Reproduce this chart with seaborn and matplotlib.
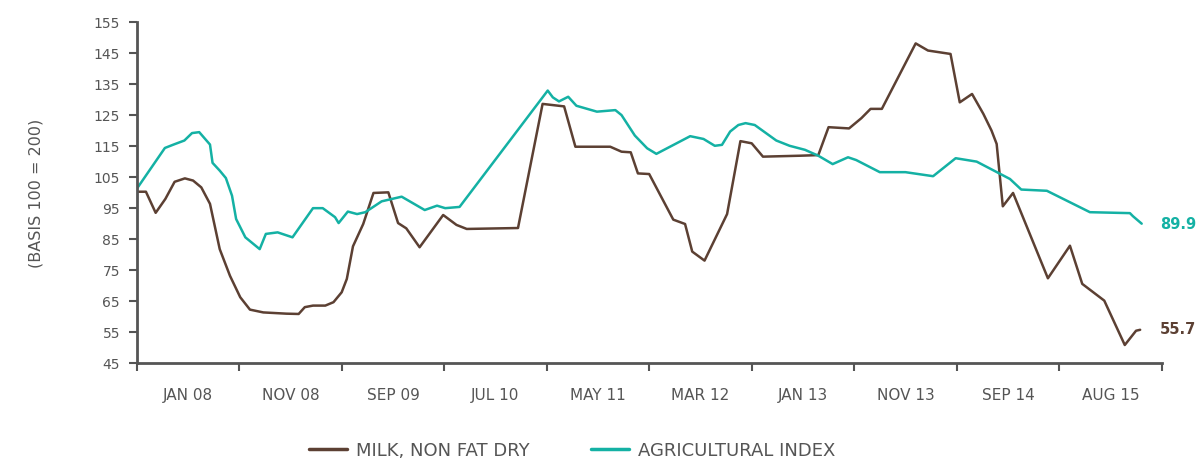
import matplotlib
matplotlib.use("Agg")
import matplotlib.pyplot as plt
import pandas as pd
import seaborn as sns

# Months elapsed since August 2007
milk_months = [0, 0.9, 1.85, 2.8, 3.7, 4.7, 5.5, 6.3, 7.15, 8.1, 9.1, 10.1, 11.05,
               12.35, 14.6, 15.8, 16.4, 17.2, 18.4, 19.2, 20.0, 20.5, 21.1, 22.1,
               23.1, 24.55, 25.5, 26.3, 27.6, 29.9, 31.2, 32.2, 37.2, 39.6, 41.7,
               42.8, 46.2, 47.3, 48.2, 48.9, 50.0, 52.35, 53.5, 54.2, 55.4, 57.6,
               58.9, 60.0, 61.1, 64.7, 66.5, 67.5, 69.5, 70.7, 71.6, 72.7, 76.0,
               77.2, 79.4, 80.3, 81.5, 82.6, 83.4, 83.9, 84.5, 85.5, 88.9, 91.05,
               92.25, 94.4, 96.4, 97.5, 97.9]
milk_values = [100.2, 100.2, 93.4, 97.9, 103.4, 104.5, 103.8, 101.6, 96.3, 81.7,
               73.1, 66.2, 62.2, 61.3, 60.9, 60.8, 63.0, 63.5, 63.5, 64.6, 67.8,
               72.1, 82.6, 89.8, 99.8, 100.0, 90.1, 88.4, 82.3, 92.7, 89.5, 88.2,
               88.5, 128.5, 127.7, 114.7, 114.7, 113.1, 112.9, 106.1, 105.9, 91.2,
               89.8, 80.9, 78.0, 93.0, 116.5, 115.8, 111.5, 111.8, 112.0, 121.0,
               120.6, 123.9, 126.9, 126.9, 148.0, 145.7, 144.6, 129.0, 131.7, 125.3,
               119.9, 115.6, 95.5, 99.8, 72.3, 82.8, 70.5, 65.1, 50.8, 55.4, 55.7]

agri_months = [0, 2.75, 3.6, 4.65, 5.4, 6.1, 7.15, 7.4, 8.1, 8.7, 9.3, 9.7, 10.6,
               12.0, 12.6, 13.75, 15.2, 17.2, 18.15, 19.35, 19.7, 20.6, 21.5, 22.3,
               23.9, 25.85, 28.1, 29.3, 30.1, 31.5, 40.1, 40.6, 41.2, 42.1, 42.9,
               44.9, 46.7, 47.3, 48.6, 49.8, 50.7, 54.0, 55.3, 56.4, 57.1, 57.9,
               58.7, 59.4, 60.3, 62.4, 63.7, 65.2, 66.5, 67.9, 69.4, 70.2, 72.5,
               75.0, 77.7, 79.9, 81.95, 85.2, 86.3, 88.8, 93.0, 96.9, 97.2, 98.05]
agri_values = [101.1, 114.3, 115.4, 116.7, 119.1, 119.4, 115.4, 109.5, 107.0, 104.6,
               98.9, 91.4, 85.5, 81.7, 86.6, 87.1, 85.5, 94.9, 94.9, 92.0, 90.1,
               93.8, 93.0, 93.6, 97.1, 98.6, 94.3, 95.7, 94.9, 95.3, 132.8, 130.6,
               129.3, 130.8, 127.9, 126.0, 126.5, 124.9, 118.3, 114.2, 112.4, 118.1,
               117.2, 115.0, 115.3, 119.6, 121.7, 122.3, 121.7, 116.7, 115.0, 113.7,
               111.8, 109.1, 111.3, 110.4, 106.5, 106.5, 105.2, 111.0, 109.9, 104.3,
               100.9, 100.5, 93.6, 93.3, 92.3, 89.9]

series_names = ["MILK, NON FAT DRY", "AGRICULTURAL INDEX"]
series_colors = ["#5c4033", "#14b1a4"]

tick_months = list(range(0, 101, 10))
label_months = [5, 15, 25, 35, 45, 55, 65, 75, 85, 95]
label_texts = ["JAN 08", "NOV 08", "SEP 09", "JUL 10", "MAY 11",
               "MAR 12", "JAN 13", "NOV 13", "SEP 14", "AUG 15"]
y_ticks = list(range(45, 156, 10))

df = pd.concat([
    pd.DataFrame({"month": milk_months, "value": milk_values, "series": series_names[0]}),
    pd.DataFrame({"month": agri_months, "value": agri_values, "series": series_names[1]}),
], ignore_index=True)

sns.set_theme(style="white")
plt.rcParams["font.family"] = ["DejaVu Sans"]
text_grey = "#555555"
axis_grey = "#555555"

fig = plt.figure(figsize=(11.96, 4.60), dpi=100)
ax = fig.add_axes([0.1143, 0.2087, 0.8570, 0.7420])

sns.lineplot(data=df, x="month", y="value", hue="series", hue_order=series_names,
             palette=series_colors, sort=False, estimator=None, linewidth=1.8, ax=ax)

ax.set_xlim(0, 100)
ax.set_ylim(45, 155)
ax.set_yticks(y_ticks)
ax.set_yticklabels([str(v) for v in y_ticks], fontsize=10, color=text_grey)
ax.set_xticks(tick_months)
ax.set_xticklabels([])
ax.set_xticks(label_months, minor=True)
ax.set_xticklabels(label_texts, minor=True, fontsize=11, color=text_grey)
ax.tick_params(axis="x", which="major", direction="out", length=6, width=1.5,
               color=axis_grey, bottom=True)
ax.tick_params(axis="x", which="minor", length=0, pad=17)
ax.tick_params(axis="y", direction="out", length=6, width=1.5, color=axis_grey,
               left=True, pad=6)

for side in ("top", "right"):
    ax.spines[side].set_visible(False)
for side in ("left", "bottom"):
    ax.spines[side].set_color(axis_grey)
    ax.spines[side].set_linewidth(2)

ax.set_xlabel("")
ax.set_ylabel("(BASIS 100 = 200)", fontsize=11.5, color=text_grey, labelpad=36)

# Final values labelled at the right end of each line
ax.annotate(f"{agri_values[-1]:.1f}", xy=(agri_months[-1], agri_values[-1]),
            xytext=(13, 0), textcoords="offset points", va="center", ha="left",
            fontsize=10.5, fontweight="bold", color=series_colors[1],
            annotation_clip=False)
ax.annotate(f"{milk_values[-1]:.1f}", xy=(milk_months[-1], milk_values[-1]),
            xytext=(14, 1), textcoords="offset points", va="center", ha="left",
            fontsize=10.5, fontweight="bold", color=series_colors[0],
            annotation_clip=False)

sns.move_legend(ax, "center", bbox_to_anchor=(0.425, -0.255), ncol=2,
                frameon=False, title=None, fontsize=13, handlelength=2.1,
                handletextpad=0.5, columnspacing=3.4)
for txt in ax.get_legend().get_texts():
    txt.set_color(text_grey)
for line in ax.get_legend().get_lines():
    line.set_linewidth(2.5)

fig.savefig("out.png", dpi=100)
